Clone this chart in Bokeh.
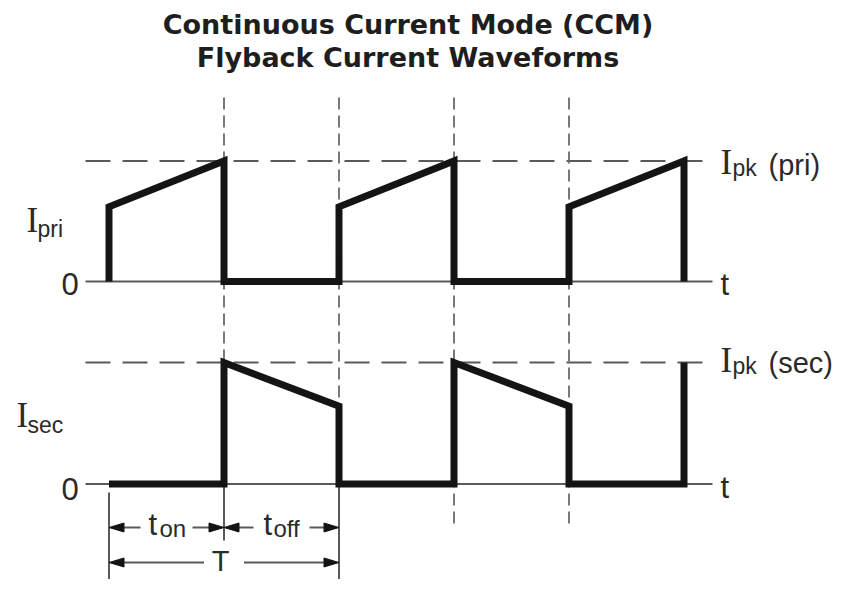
from bokeh.plotting import figure
from bokeh.models import Range1d, Label
from bokeh.embed import file_html
from bokeh.resources import INLINE

# ---------------- data (normalised currents, time in microseconds) ----------------
time_pri = [0, 0, 5, 5, 10, 10, 15, 15, 20, 20, 25, 25]
i_pri = [0, 0.62, 1.0, 0, 0, 0.62, 1.0, 0, 0, 0.62, 1.0, 0]
time_sec = [0, 5, 5, 10, 10, 15, 15, 20, 20, 25, 25]
i_sec = [0, 0, 1.0, 0.64, 0, 0, 1.0, 0.64, 0, 0, 1.0]
ipk_pri = 1.0
ipk_sec = 1.0
switch_times = [5, 10, 15, 20]
t_start = 0
t_on = 5
T = 10
title_lines = ["Continuous Current Mode (CCM)", "Flyback Current Waveforms"]

# ---------------- layout (picture pixel geometry) ----------------
W, H = 833, 579
PAGE_L, PAGE_T = 0, 0
PAGE_R, PAGE_B = PAGE_L + W, PAGE_T + H
PX_PER_US = 23.0
T0_PAGE_X = 108.5
BASELINE_FIX = 0.37  # em, measured correction for label baseline placement


def y_range_for(zero_y, one_y):
    s = zero_y - one_y
    return Range1d((zero_y - PAGE_B) / s, (zero_y - PAGE_T) / s)


x_range = Range1d((PAGE_L - T0_PAGE_X) / PX_PER_US, (PAGE_R - T0_PAGE_X) / PX_PER_US)

p = figure(width=W, height=H, x_range=x_range, y_range=y_range_for(281, 160.5),
           toolbar_location=None, output_backend="svg", min_border=0,
           x_axis_type=None, y_axis_type=None, outline_line_color=None,
           background_fill_color="white", border_fill_color="white")
p.extra_y_ranges = {"sec": y_range_for(483.5, 362), "page": Range1d(PAGE_B, PAGE_T)}
p.extra_x_ranges = {"page": Range1d(PAGE_L, PAGE_R)}

GUIDE = "#5a5a5a"
INK = "#141414"
TXT = "#2a2a2a"

# baseline (zero) axis lines and Ipk dashed lines
ax_x = [time_pri[0] - 23.5 / PX_PER_US, time_pri[-1] + 28.5 / PX_PER_US]
dash_x = [time_pri[0] - 23.5 / PX_PER_US, time_pri[-1] + 26 / PX_PER_US]
p.line(ax_x, [0, 0], line_width=2, color=GUIDE)
p.line(ax_x, [0, 0], line_width=2, color=GUIDE, y_range_name="sec")
p.line(dash_x, [ipk_pri, ipk_pri], line_width=2.2, color=GUIDE, line_dash="25 12")
p.line(dash_x, [ipk_sec, ipk_sec], line_width=2.2, color=GUIDE, line_dash="25 12",
       y_range_name="sec")

# vertical dashed guides at switching instants
dash_ends = {5: 485, 10: 485, 15: 527, 20: 527}
p.segment(x0=switch_times, y0=[97] * len(switch_times),
          x1=switch_times, y1=[dash_ends[t] for t in switch_times],
          line_width=1.8, color="#6a6a6a", line_dash="12 6", y_range_name="page")

# solid extension lines for dimensions
ext_t = [t_start, t_on, T]
ext_y0 = [492, 485, 485]
ext_y1 = [PAGE_B, 540, PAGE_B]
p.segment(x0=ext_t, y0=ext_y0, x1=ext_t, y1=ext_y1, line_width=2, color=GUIDE,
          y_range_name="page")

# waveforms
p.line(time_pri, i_pri, line_width=7, color=INK, line_join="miter")
p.line(time_sec, i_sec, line_width=7, color=INK, line_join="miter", y_range_name="sec")

# dimension arrows
HEAD_L = 15 / PX_PER_US
HEAD_W = 4.5


def half_arrow(tail, tip, y):
    d = 1 if tip > tail else -1
    p.line([tail, tip - d * HEAD_L * 0.5], [y, y], line_width=2, color=GUIDE,
           y_range_name="page")
    p.patch([tip, tip - d * HEAD_L, tip - d * HEAD_L], [y, y - HEAD_W, y + HEAD_W],
            color=INK, line_width=1, y_range_name="page")


dims = [(t_start, t_on, 527, 26), (t_on, T, 527, 28), (t_start, T, 562, 20)]
for a, b, y, gap in dims:
    mid = (a + b) / 2
    half_arrow(mid - gap / PX_PER_US, a, y)
    half_arrow(mid + gap / PX_PER_US, b, y)


def lab(text, x, y, size, font="Liberation Sans", align="left", style="normal", color=TXT):
    p.add_layout(Label(x=x, y=y - BASELINE_FIX * size, text=text,
                       x_range_name="page", y_range_name="page",
                       text_font=font, text_font_size=f"{size}px", text_font_style=style,
                       text_align=align, text_baseline="alphabetic", text_color=color))


# title
lab(title_lines[0], 407.5, 34, 27, font="DejaVu Sans", align="center", style="bold",
    color="#1e1e1e")
lab(title_lines[1], 407.5, 67, 27, font="DejaVu Sans", align="center", style="bold",
    color="#1e1e1e")

# left labels
lab("I", 26, 233, 35, font="Liberation Serif")
lab("pri", 37, 237, 23)
lab("0", 61, 295, 31)
lab("I", 16, 428, 35, font="Liberation Serif")
lab("sec", 27, 433, 23)
lab("0", 61, 500, 31)

# right labels
lab("t", 720, 295, 31)
lab("t", 720, 498, 31)
lab("I", 720, 175, 35, font="Liberation Serif")
lab("pk", 732, 176, 23)
lab("(pri)", 768, 175, 29)
lab("I", 720, 373, 35, font="Liberation Serif")
lab("pk", 732, 374, 23)
lab("(sec)", 768, 373, 29)

# dimension labels
lab("t", 148, 535, 31)
lab("on", 159, 537, 24)
lab("t", 263, 535, 31)
lab("off", 273, 537, 24)
lab("T", 220, 571, 29, align="center")

open("out.html", "w").write(file_html(p, INLINE))
